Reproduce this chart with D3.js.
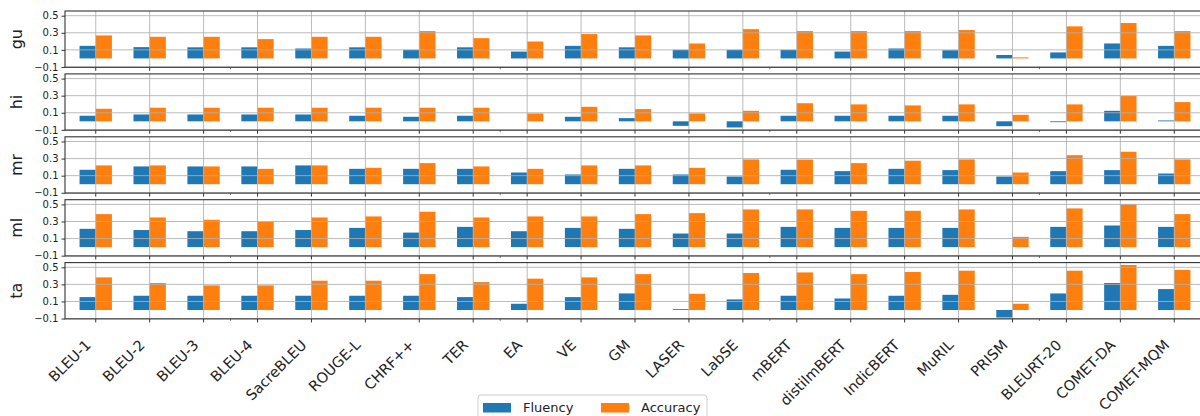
<!DOCTYPE html>
<html>
<head>
<meta charset="utf-8">
<script src="https://cdn.jsdelivr.net/npm/d3@7"></script>
<style>
  body { margin: 0; background: #fff; }
  svg { display: block; font-family: "DejaVu Sans", sans-serif; }
</style>
</head>
<body>
<div id="chart"></div>
<script>
// 1: DATA
const metrics = ["BLEU-1", "BLEU-2", "BLEU-3", "BLEU-4", "SacreBLEU", "ROUGE-L", "CHRF++", "TER", "EA", "VE", "GM",
    "LASER", "LabSE", "mBERT", "distilmBERT", "IndicBERT", "MuRIL", "PRISM", "BLEURT-20", "COMET-DA", "COMET-MQM"];
const languages = ["gu", "hi", "mr", "ml", "ta"];
const seriesNames = ["Fluency", "Accuracy"];
const yTicks = [-0.1, 0.1, 0.3, 0.5];

const guFluency  = [0.147, 0.132, 0.130, 0.130, 0.116, 0.130, 0.100, 0.130, 0.080, 0.147, 0.130, 0.100, 0.100, 0.100, 0.080, 0.116, 0.096, 0.040, 0.070, 0.175, 0.147];
const guAccuracy = [0.269, 0.253, 0.253, 0.226, 0.253, 0.253, 0.320, 0.237, 0.198, 0.285, 0.269, 0.175, 0.343, 0.320, 0.320, 0.320, 0.332, 0.012, 0.375, 0.414, 0.320];
const hiFluency  = [0.065, 0.080, 0.080, 0.080, 0.080, 0.065, 0.053, 0.065, 0.000, 0.053, 0.037, -0.053, -0.072, 0.065, 0.065, 0.065, 0.065, -0.057, -0.010, 0.123, 0.010];
const hiAccuracy = [0.147, 0.159, 0.159, 0.159, 0.159, 0.159, 0.159, 0.159, 0.092, 0.170, 0.143, 0.092, 0.123, 0.212, 0.198, 0.186, 0.198, 0.076, 0.198, 0.296, 0.225];
const mrFluency  = [0.169, 0.208, 0.208, 0.208, 0.220, 0.180, 0.180, 0.180, 0.137, 0.114, 0.180, 0.114, 0.090, 0.169, 0.153, 0.180, 0.165, 0.090, 0.153, 0.165, 0.125];
const mrAccuracy = [0.220, 0.220, 0.208, 0.180, 0.220, 0.192, 0.247, 0.208, 0.180, 0.220, 0.220, 0.192, 0.290, 0.288, 0.247, 0.275, 0.290, 0.137, 0.340, 0.380, 0.290];
const mlFluency  = [0.214, 0.200, 0.186, 0.186, 0.200, 0.225, 0.170, 0.237, 0.186, 0.225, 0.214, 0.159, 0.159, 0.237, 0.225, 0.225, 0.225, 0.000, 0.237, 0.253, 0.237];
const mlAccuracy = [0.386, 0.347, 0.320, 0.296, 0.347, 0.359, 0.414, 0.347, 0.359, 0.359, 0.386, 0.398, 0.441, 0.441, 0.425, 0.425, 0.441, 0.120, 0.453, 0.504, 0.386];
const taFluency  = [0.151, 0.167, 0.167, 0.167, 0.167, 0.167, 0.167, 0.151, 0.073, 0.151, 0.194, 0.010, 0.124, 0.167, 0.135, 0.167, 0.178, -0.088, 0.194, 0.316, 0.245];
const taAccuracy = [0.382, 0.316, 0.288, 0.288, 0.343, 0.343, 0.420, 0.327, 0.367, 0.382, 0.420, 0.190, 0.433, 0.440, 0.420, 0.445, 0.460, 0.073, 0.460, 0.527, 0.470];

const panelData = {
    gu: [guFluency, guAccuracy],
    hi: [hiFluency, hiAccuracy],
    mr: [mrFluency, mrAccuracy],
    ml: [mlFluency, mlAccuracy],
    ta: [taFluency, taAccuracy]
};

// 2: LAYOUT
const W = 1200, H = 416;
const left = 65, right = 1205;     // right spine falls just outside the picture
const panelTop = 11, panelStep = 62.9, panelH = 56.3;
const color = d3.scaleOrdinal().domain(seriesNames).range(["#1f77b4", "#ff7f0e"]);

const svg = d3.select("#chart")
    .append("svg")
    .attr("width", W)
    .attr("height", H);

svg.append("rect").attr("width", W).attr("height", H).attr("fill", "#fff");

// scales
const x = d3.scaleBand()
    .domain(metrics)
    .range([left, right])
    .paddingInner(0)
    .paddingOuter(0.07);
const step = x.step();
const xc = d => x(d) + x.bandwidth() / 2;
const xSub = d3.scaleBand()
    .domain(seriesNames)
    .range([-0.3 * step, 0.3 * step]);

const y = d3.scaleLinear()
    .domain([-0.104, 0.555])
    .range([panelH, 0]);

// minor ticks sit halfway between some categories
const minorIdx = [2.5, 7.5, 12.5, 17.5];
const xIdx = i => xc(metrics[0]) + i * step;

// 3: PANELS
languages.forEach((lang, li) => {
    const g = svg.append("g")
        .attr("transform", `translate(0,${panelTop + li * panelStep})`);

    const rows = metrics.map((m, i) => ({
        metric: m,
        values: seriesNames.map((s, k) => ({ key: s, value: panelData[lang][k][i] }))
    }));

    // bars (zero values draw nothing)
    g.append("g")
        .selectAll("g")
        .data(rows)
        .join("g")
        .attr("transform", d => `translate(${xc(d.metric)},0)`)
        .selectAll("rect")
        .data(d => d.values.filter(v => v.value !== 0))
        .join("rect")
        .attr("x", d => xSub(d.key))
        .attr("width", xSub.bandwidth())
        .attr("y", d => y(Math.max(0, d.value)))
        .attr("height", d => Math.max(0.8, Math.abs(y(d.value) - y(0))))
        .attr("fill", d => color(d.key));

    // grid on top of bars (matplotlib default)
    g.append("g")
        .selectAll("line")
        .data(yTicks)
        .join("line")
        .attr("x1", left).attr("x2", right)
        .attr("y1", d => y(d)).attr("y2", d => y(d))
        .attr("stroke", "#b0b0b0")
        .attr("stroke-width", 1)
        .attr("opacity", 0.85);

    g.append("g")
        .selectAll("line")
        .data(metrics)
        .join("line")
        .attr("x1", d => xc(d)).attr("x2", d => xc(d))
        .attr("y1", 0).attr("y2", panelH)
        .attr("stroke", "#b0b0b0")
        .attr("stroke-width", 1)
        .attr("opacity", 0.85);

    // Y Axis
    const yAxis = g.append("g")
        .attr("transform", `translate(${left},0)`)
        .call(d3.axisLeft(y).tickValues(yTicks).tickSize(3.5).tickPadding(3)
            .tickFormat(d => d3.format(".1f")(d).replace("-", "\u2212")));
    yAxis.select(".domain").remove();
    yAxis.selectAll("line").attr("stroke", "#333");
    yAxis.selectAll("text")
        .style("font-size", "10px")
        .style("font-family", "DejaVu Sans")
        .attr("fill", "#222");

    // X ticks
    g.append("g")
        .selectAll("line")
        .data(metrics)
        .join("line")
        .attr("x1", d => xc(d)).attr("x2", d => xc(d))
        .attr("y1", panelH).attr("y2", panelH + 3.5)
        .attr("stroke", "#333");

    g.append("g")
        .selectAll("line")
        .data(minorIdx)
        .join("line")
        .attr("x1", d => xIdx(d)).attr("x2", d => xIdx(d))
        .attr("y1", panelH).attr("y2", panelH + 2)
        .attr("stroke", "#555")
        .attr("stroke-width", 0.8);

    // frame
    g.append("rect")
        .attr("x", left)
        .attr("y", 0)
        .attr("width", right - left)
        .attr("height", panelH)
        .attr("fill", "none")
        .attr("stroke", "#333")
        .attr("stroke-width", 1.1);

    // Y Label
    g.append("text")
        .attr("transform", `translate(22,${panelH / 2}) rotate(-90)`)
        .attr("text-anchor", "middle")
        .style("font-size", "16px")
        .attr("fill", "#222")
        .text(lang);

    // X labels only under the last panel
    if (li === languages.length - 1) {
        g.append("g")
            .selectAll("text")
            .data(metrics)
            .join("text")
            .attr("transform", d => `translate(${xc(d) - 4},${panelH + 27}) rotate(-45)`)
            .attr("text-anchor", "end")
            .style("font-size", "14.5px")
            .attr("fill", "#222")
            .text(d => d);
    }
});

// 4: LEGEND
const legend = svg.append("g").attr("transform", "translate(478,395)");

legend.append("rect")
    .attr("x", 0).attr("y", 0)
    .attr("width", 229).attr("height", 30)
    .attr("rx", 3)
    .attr("fill", "#fff")
    .attr("stroke", "#cccccc")
    .attr("stroke-width", 1);

const legendItems = legend.selectAll("g.item")
    .data(seriesNames)
    .join("g")
    .attr("class", "item")
    .attr("transform", (d, i) => `translate(${5 + i * 118},0)`);

legendItems.append("rect")
    .attr("x", 0).attr("y", 8)
    .attr("width", 28).attr("height", 9.5)
    .attr("fill", d => color(d));

legendItems.append("text")
    .attr("x", 40)
    .attr("y", 17)
    .style("font-size", "13px")
    .attr("fill", "#222")
    .text(d => d);
</script>
</body>
</html>
